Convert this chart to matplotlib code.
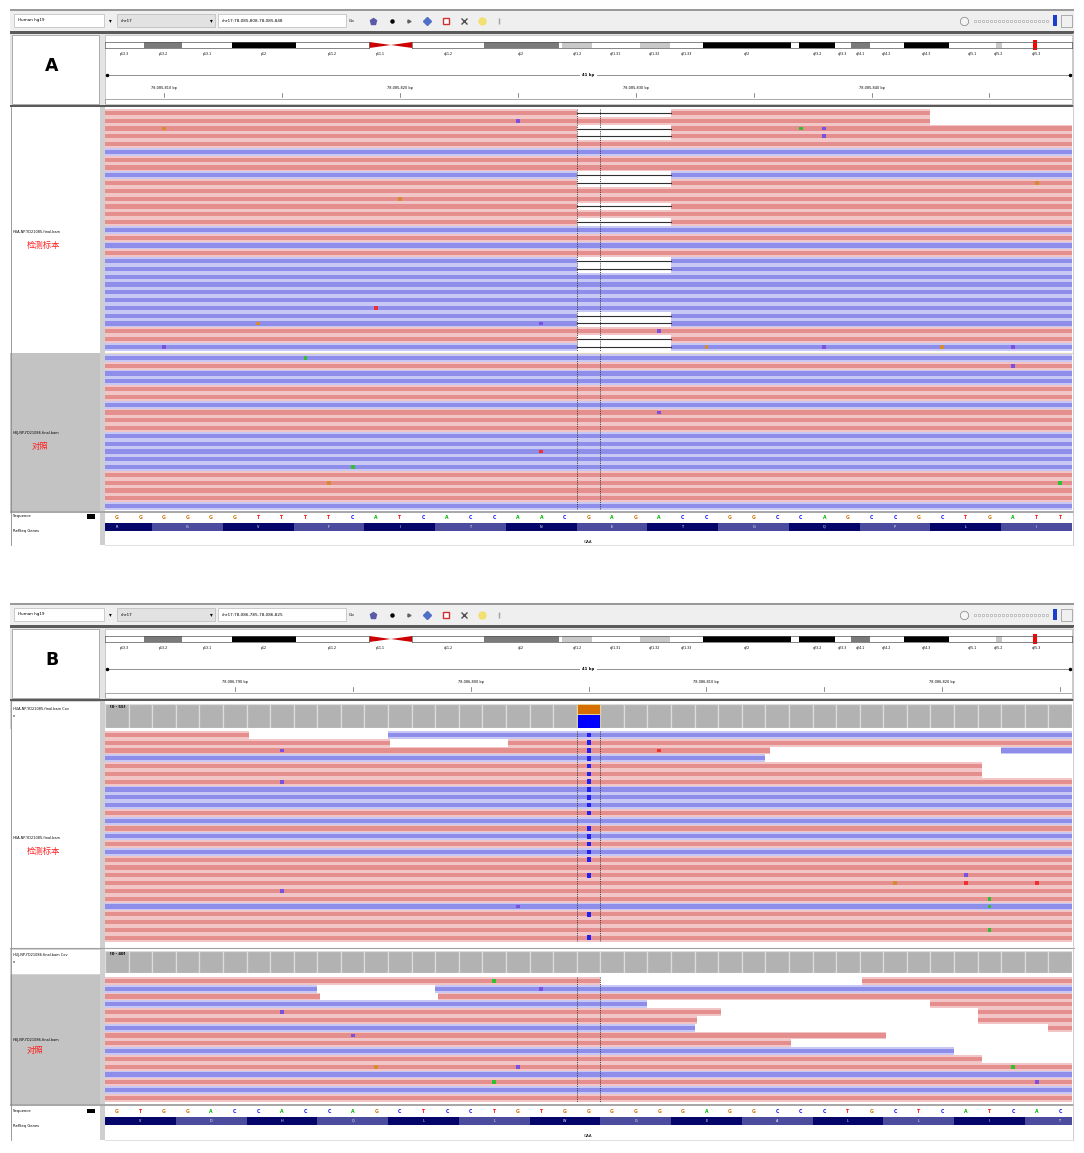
import matplotlib
matplotlib.use("Agg")
import matplotlib.pyplot as plt
from matplotlib.patches import Rectangle, Polygon

W, H = 1084, 1153
DX0, DX1 = 105, 1072      # left/right edge of the data columns (pixels)
PITCH = 7.8               # height of one read row (pixels)

# ---------------- data ----------------
N_BASES = 41
locus_a = "chr17:78,085,808-78,085,848"
start_a = 78085808
locus_b = "chr17:78,086,785-78,086,825"
start_b = 78086785

seq_a = "GGGGGGTTTTCATCACCAACGAGACCGGCCAGCCGCTGATT"
seq_b = "GTGGACCACCAGCTCCTGTGGGGGGAGGCCCTGCTCATCAC"

# GAA amino acids, first codon start (base offset) and letters
codon_frame_a = -1
aa_a = "RGVFITNETGQPLI"
codon_frame_b = 0
aa_b = "VDHQLLWGEALLIT"

# chr17 cytobands (Mb)
band_names = ["p13.3", "p13.2", "p13.1", "p12", "p11.2", "p11.1", "q11.1", "q11.2",
              "q12", "q21.1", "q21.2", "q21.31", "q21.32", "q21.33", "q22", "q23.1",
              "q23.2", "q23.3", "q24.1", "q24.2", "q24.3", "q25.1", "q25.2", "q25.3"]
band_start = [0.0, 3.3, 6.5, 10.7, 16.0, 22.2, 24.0, 25.8, 31.8, 38.1, 38.4, 40.9,
              44.9, 47.4, 50.2, 57.6, 58.3, 61.3, 62.6, 64.2, 67.1, 70.9, 74.8, 75.3]
band_end = [3.3, 6.5, 10.7, 16.0, 22.2, 24.0, 25.8, 31.8, 38.1, 38.4, 40.9, 44.9,
            47.4, 50.2, 57.6, 58.3, 61.3, 62.6, 64.2, 67.1, 70.9, 74.8, 75.3, 81.195]
band_stain = ["gneg", "gpos50", "gneg", "gpos100", "gneg", "acen", "acen", "gneg",
              "gpos50", "gneg", "gpos25", "gneg", "gpos25", "gneg", "gpos100", "gneg",
              "gpos100", "gneg", "gpos50", "gneg", "gpos100", "gneg", "gpos25", "gneg"]
chr_len = 81.195

# panel A - upper sample, one read per row (F pink / R blue)
strand_a1 = "FFFFFRFFRFFFFFFRFRFRRRRRRRRRFFR"
read_end_a1 = {0: 35.0, 1: 35.0}
deletion_a = (20, 24)
del_rows_a1 = [0, 2, 3, 8, 9, 12, 14, 19, 20, 26, 27, 29, 30]
mism_a1 = [(2, 2, "G"), (1, 17, "C"), (2, 29, "A"), (2, 30, "C"), (3, 30, "C"),
           (11, 12, "G"), (9, 39, "G"), (25, 11, "T"), (27, 6, "G"), (27, 18, "C"),
           (30, 2, "C"), (28, 23, "C"), (30, 25, "G"), (30, 30, "C"), (30, 35, "G"),
           (30, 38, "C")]
# panel A - control sample
strand_a2 = "RFRRFFRFFFRRRRRFFFFR"
mism_a2 = [(0, 8, "A"), (1, 38, "C"), (7, 23, "C"), (12, 18, "T"), (14, 10, "A"),
           (16, 9, "G"), (16, 40, "A")]

# panel B - upper sample, segments (start, end, strand) per row
reads_b1 = [
    [(-1, 6.1, "F"), (12.0, 42, "R")],
    [(-1, 12.1, "F"), (17.1, 42, "F")],
    [(-1, 28.2, "F"), (38.0, 42, "R")],
    [(-1, 28.0, "R")],
    [(-1, 37.2, "F")],
    [(-1, 37.2, "F")],
    [(-1, 42, "F")],
    [(-1, 42, "R")],
    [(-1, 42, "R")],
    [(-1, 42, "R")],
    [(-1, 42, "F")],
    [(-1, 42, "R")],
    [(-1, 42, "F")],
    [(-1, 42, "R")],
    [(-1, 42, "F")],
    [(-1, 42, "R")],
    [(-1, 42, "F")],
    [(-1, 42, "F")],
    [(-1, 42, "F")],
    [(-1, 42, "F")],
    [(-1, 42, "F")],
    [(-1, 42, "F")],
    [(-1, 42, "R")],
    [(-1, 42, "F")],
    [(-1, 42, "F")],
    [(-1, 42, "F")],
    [(-1, 42, "F")],
]
variant_pos_b = 20
variant_rows_b1 = [0, 1, 2, 3, 4, 5, 6, 7, 8, 9, 10, 12, 13, 14, 15, 16, 18, 23, 26]
mism_b1 = [(2, 23, "T"), (2, 7, "C"), (6, 7, "C"), (22, 17, "C"), (19, 33, "G"),
           (19, 36, "T"), (19, 39, "T"), (18, 36, "C"), (21, 37, "A"), (22, 37, "A"),
           (25, 37, "A"), (20, 7, "C")]

# panel B - control sample
reads_b2 = [
    [(-1, 21.0, "F"), (32.1, 42, "F")],
    [(-1, 9.0, "R"), (14.0, 42, "R")],
    [(-1, 9.1, "F"), (14.1, 42, "F")],
    [(-1, 23.0, "R"), (35.0, 42, "F")],
    [(-1, 26.1, "F"), (37.0, 42, "F")],
    [(-1, 25.1, "F"), (37.0, 42, "F")],
    [(-1, 25.0, "R"), (40.0, 42, "F")],
    [(-1, 33.1, "F")],
    [(-1, 29.1, "F")],
    [(-1, 36.0, "R")],
    [(-1, 37.2, "F")],
    [(-1, 42, "F")],
    [(-1, 42, "R")],
    [(-1, 42, "F")],
    [(-1, 42, "R")],
    [(-1, 42, "F")],
]
mism_b2 = [(0, 16, "A"), (1, 18, "C"), (4, 7, "C"), (7, 10, "C"), (11, 11, "G"),
           (11, 17, "C"), (11, 38, "A"), (13, 16, "A"), (13, 39, "C")]

# coverage per base
cov_b1 = [55, 55, 55, 55, 55, 55, 55, 55, 55, 55, 55, 55, 55, 55, 55, 55, 55, 55, 55, 55, 55,
          55, 55, 55, 55, 55, 55, 55, 55, 55, 55, 55, 55, 55, 55, 55, 55, 55, 55, 55, 55]
cov_b2 = [40, 40, 40, 40, 40, 40, 40, 40, 40, 40, 40, 40, 40, 40, 40, 40, 40, 40, 40, 40, 40,
          40, 40, 40, 40, 40, 40, 40, 40, 40, 40, 40, 40, 40, 40, 40, 40, 40, 40, 40, 40]
variant_counts_b1 = {"C": 30, "G": 25}

BASE_COLORS = {"A": "#00b400", "C": "#1010ff", "G": "#d17105", "T": "#ff1010"}
MISM_COLORS = {"A": "#30c030", "C": "#7a50e0", "G": "#d88a30", "T": "#f03030"}
READ_COLORS = {"F": ("#f2c6c6", "#e58e8e"), "R": ("#c8c8f4", "#8e8eea")}
STAIN_COLORS = {"gneg": "white", "gpos25": "#c8c8c8", "gpos50": "#7a7a7a",
                "gpos75": "#3c3c3c", "gpos100": "black"}
CJK = ["Noto Sans CJK SC", "DejaVu Sans"]


def axes_px(fig, x0, y0, x1, y1):
    ax = fig.add_axes([x0 / W, 1 - y1 / H, (x1 - x0) / W, (y1 - y0) / H])
    ax.set_axis_off()
    return ax


def draw_toolbar(cx, top, locus):
    cx.add_patch(Rectangle((10, top + 9), 1064, 1.6, fc="#9a9a9a"))
    cx.add_patch(Rectangle((10, top + 10.6), 1064, 20.4, fc="#efefef"))
    cx.add_patch(Rectangle((14, top + 14), 90, 13, fc="white", ec="#b8b8b8", lw=0.5))
    cx.text(18, top + 20.5, "Human hg19", fontsize=3, va="center")
    cx.text(110, top + 20.5, "\u25be", fontsize=4, va="center", ha="center")
    cx.add_patch(Rectangle((117, top + 14), 98, 13, fc="#e2e2e2", ec="#b8b8b8", lw=0.5))
    cx.text(121, top + 20.5, "chr17", fontsize=3, va="center")
    cx.text(211, top + 20.5, "\u25be", fontsize=4, va="center", ha="center")
    cx.add_patch(Rectangle((218, top + 14), 128, 13, fc="white", ec="#b8b8b8", lw=0.5))
    cx.text(222, top + 20.5, locus, fontsize=3, va="center")
    cx.text(349, top + 20.5, "Go", fontsize=3, va="center")
    y = top + 20.5
    cx.plot(373, y, marker="p", ms=5, color="#5a5aa8")
    cx.plot(392, y, marker="o", ms=2.2, color="black")
    cx.plot(409, y, marker=">", ms=2.2, color="#606060")
    cx.plot(427, y, marker="D", ms=4.5, color="#5070c8")
    cx.plot(446, y, marker="s", ms=4.5, mfc="white", mec="#d03030", mew=1)
    cx.plot(464, y, marker="x", ms=4, color="#505050", mew=1)
    cx.plot(482, y, marker="o", ms=5, color="#f2e070")
    cx.plot(499, y, marker="|", ms=5, color="#a0a0a0")
    cx.plot(964, y, marker="o", ms=6, mfc="#f4f4f4", mec="#909090", mew=0.6)
    for x in range(975, 1051, 4):
        cx.plot(x, y, marker="s", ms=1.8, mfc="#f8f8f8", mec="#a0a0a0", mew=0.4)
    cx.add_patch(Rectangle((1053, top + 15), 4, 11, fc="#1a3fd0"))
    cx.add_patch(Rectangle((1061, top + 14.5), 11, 12, fc="#f0f0f0", ec="#909090", lw=0.5))
    cx.add_patch(Rectangle((10, top + 31), 1064, 2.5, fc="#5a5a5a"))


def draw_header(fig, cx, top, label, start):
    cx.add_patch(Rectangle((10, top + 33.5), 1064, 71.5, fc="#e4e4e4"))
    cx.add_patch(Rectangle((12, top + 35), 87, 69, fc="white", ec="#a0a0a0", lw=0.6))
    cx.text(52, top + 66, label, fontsize=12.5, fontweight="bold", ha="center", va="center")
    cx.add_patch(Rectangle((105, top + 35), 967, 69, fc="white", ec="#b8b8b8", lw=0.5))
    cx.add_patch(Rectangle((10, top + 105), 1064, 2.2, fc="#5a5a5a"))

    # ideogram
    ax = axes_px(fig, DX0, top + 42, DX1, top + 48)
    ax.set_xlim(0, chr_len)
    ax.set_ylim(1, 0)
    for name, s, e, st in zip(band_names, band_start, band_end, band_stain):
        if st == "acen":
            if name.startswith("p"):
                pts = [(s, 0), (e, 0.5), (s, 1)]
            else:
                pts = [(s, 0.5), (e, 0), (e, 1)]
            ax.add_patch(Polygon(pts, closed=True, fc="#cc0000", ec="none"))
        else:
            ax.add_patch(Rectangle((s, 0), e - s, 1, fc=STAIN_COLORS[st], ec="none"))
        if name not in ("q11.1", "q21.1", "q23.1"):
            ax.text((s + e) / 2, 2.0, name, fontsize=2.3, ha="center", va="center",
                    clip_on=False)
    p_end = band_start[band_names.index("p11.1")]
    q_start = band_end[band_names.index("q11.1")]
    for a, b in ((0, p_end), (q_start, chr_len)):
        ax.plot([a, b], [0, 0], color="#555555", lw=0.5, clip_on=False)
        ax.plot([a, b], [1, 1], color="#555555", lw=0.5, clip_on=False)
        ax.plot([a, a], [0, 1], color="#555555", lw=0.5, clip_on=False)
        ax.plot([b, b], [0, 1], color="#555555", lw=0.5, clip_on=False)
    ax.add_patch(Rectangle((start / 1e6 - 0.15, -0.3), 0.3, 1.6, fc="red", ec="none",
                           clip_on=False))

    # ruler
    ax = axes_px(fig, DX0, top + 70, DX1, top + 104)
    ax.set_xlim(0, N_BASES)
    ax.set_ylim(34, 0)
    ax.plot([0.1, N_BASES - 0.1], [5, 5], color="#909090", lw=0.7)
    ax.plot([0.1, N_BASES - 0.1], [5, 5], ls="none", marker="o", ms=1.5, color="black")
    ax.text(N_BASES / 2, 5, "41 bp", fontsize=2.8, fontweight="bold", ha="center",
            va="center", bbox=dict(fc="white", ec="none", pad=1.5))
    first = (start // 5 + 1) * 5
    for p in range(first, start + N_BASES, 5):
        x = p - start + 0.5
        ax.plot([x, x], [23, 27], color="#606060", lw=0.5)
        if p % 10 == 0:
            ax.text(x, 18, f"{p:,} bp", fontsize=2.5, ha="center", va="center")
    ax.add_patch(Rectangle((0, 28.5), N_BASES, 5, fc="white", ec="#9a9a9a", lw=0.6))


def draw_reads(fig, y0, rows, mism, del_rows=(), deletion=None, var_rows=(), var_pos=None):
    n = len(rows)
    ax = axes_px(fig, DX0, y0, DX1, y0 + n * PITCH)
    ax.set_xlim(0, N_BASES)
    ax.set_ylim(n, 0)
    for i, segs in enumerate(rows):
        for s, e, strand in segs:
            light, dark = READ_COLORS[strand]
            ax.add_patch(Rectangle((s, i), e - s, 1.0, fc=light, ec="none"))
            ax.add_patch(Rectangle((s, i + 0.22), e - s, 0.56, fc=dark, ec="none"))
    if deletion is not None:
        d0, d1 = deletion
        for i in del_rows:
            ax.add_patch(Rectangle((d0, i), d1 - d0, 1, fc="white", ec="none"))
            ax.plot([d0, d1], [i + 0.5, i + 0.5], color="#303030", lw=0.8)
    for r, p, b in mism:
        ax.add_patch(Rectangle((p + 0.42, r + 0.25), 0.16, 0.5, fc=MISM_COLORS[b], ec="none"))
    for r in var_rows:
        ax.add_patch(Rectangle((var_pos + 0.42, r + 0.2), 0.18, 0.6, fc="#2020f0", ec="none"))
    for x in (20, 21):
        ax.plot([x, x], [0, n], color="#303030", lw=0.6, ls=(0, (1.3, 1.3)))
    return ax


def draw_coverage(fig, y0, y1, cov, label, variant=None, var_pos=None):
    ax = axes_px(fig, DX0, y0, DX1, y1)
    top = max(cov)
    ax.set_xlim(0, N_BASES)
    ax.set_ylim(0, top)
    ax.bar(range(N_BASES), cov, width=1, align="edge", color="#b2b2b2",
           edgecolor="#dcdcdc", linewidth=0.9)
    if variant is not None:
        ax.bar(var_pos, variant["C"], width=1, align="edge", color="#0000ff",
               edgecolor="#e8dca0", linewidth=0.6)
        ax.bar(var_pos, variant["G"], bottom=variant["C"], width=1, align="edge",
               color="#d66e00", edgecolor="#e8dca0", linewidth=0.6)
    ax.text(0.2, top * 0.93, label, fontsize=2.7, fontweight="bold", va="top")


def draw_sequence(fig, y, seq, frame, aa):
    ax = axes_px(fig, DX0, y, DX1, y + 9)
    ax.set_xlim(0, N_BASES)
    ax.set_ylim(1, 0)
    for i, b in enumerate(seq):
        ax.text(i + 0.5, 0.5, b, color=BASE_COLORS[b], fontsize=3.3, fontweight="bold",
                ha="center", va="center")
    ax = axes_px(fig, DX0, y + 9.5, DX1, y + 18)
    ax.set_xlim(0, N_BASES)
    ax.set_ylim(1, 0)
    for k, a in enumerate(aa):
        s = frame + 3 * k
        col = "#06066a" if k % 2 == 0 else "#4c4c9e"
        ax.add_patch(Rectangle((s, 0.05), 3, 0.9, fc=col, ec="none"))
        ax.text(s + 1.5, 0.5, a, color="white", fontsize=2.4, ha="center", va="center")
    ax.text(N_BASES / 2, 2.3, "GAA", fontsize=2.8, ha="center", va="center", clip_on=False)


fig = plt.figure(figsize=(W / 100, H / 100), dpi=100)
cx = fig.add_axes([0, 0, 1, 1])
cx.set_xlim(0, W)
cx.set_ylim(H, 0)
cx.set_axis_off()

# ---------------- panel A ----------------
draw_toolbar(cx, 0, locus_a)
draw_header(fig, cx, 0, "A", start_a)
cx.add_patch(Rectangle((105, 107), 967, 438, fc="white"))
cx.add_patch(Rectangle((10, 107), 90, 246, fc="white"))
cx.add_patch(Rectangle((10, 353), 90, 158, fc="#c3c3c3"))
cx.add_patch(Rectangle((10, 513), 90, 32, fc="white"))
cx.add_patch(Rectangle((99.5, 107), 5.5, 438, fc="#cfcfcf"))
cx.plot([10.5, 10.5], [107, 545], color="#8a8a8a", lw=0.6)
cx.add_patch(Rectangle((10, 510.5), 1064, 2, fc="#a8a8a8"))
cx.plot([1073, 1073], [33, 545], color="#c8c8c8", lw=0.6)
cx.plot([105, 1072], [545, 545], color="#dcdcdc", lw=0.6)

rows_a1 = [[(-1, read_end_a1.get(i, 42), s)] for i, s in enumerate(strand_a1)]
rows_a2 = [[(-1, 42, s)] for s in strand_a2]
draw_reads(fig, 109, rows_a1, mism_a1, del_rows_a1, deletion_a)
draw_reads(fig, 354, rows_a2, mism_a2)
cx.plot([105, 1072], [353.2, 353.2], color="#e8d8b8", lw=0.8, zorder=5)
draw_sequence(fig, 513, seq_a, codon_frame_a, aa_a)

cx.text(13, 232, "HUA-NP-YD21085.final.bam", fontsize=2.5, va="center")
cx.text(27, 245, "检测标本", fontsize=6, color="#ff2020", va="center", family=CJK)
cx.text(13, 433, "HUJ-NP-YD21086.final.bam", fontsize=2.5, va="center")
cx.text(32, 446, "对照", fontsize=6, color="#ff2020", va="center", family=CJK)
cx.text(13, 516.5, "Sequence", fontsize=2.7, va="center")
cx.add_patch(Rectangle((87, 514), 8, 4.5, fc="black"))
cx.text(13, 531, "RefSeq Genes", fontsize=2.7, va="center")

# ---------------- panel B ----------------
T = 594
draw_toolbar(cx, T, locus_b)
draw_header(fig, cx, T, "B", start_b)
cx.add_patch(Rectangle((105, 701), 967, 439, fc="white"))
cx.add_patch(Rectangle((10, 701), 90, 27.5, fc="white", ec="#b0b0b0", lw=0.4))
cx.add_patch(Rectangle((10, 729), 90, 218, fc="white"))
cx.add_patch(Rectangle((10, 948.5), 90, 25.5, fc="white", ec="#b0b0b0", lw=0.4))
cx.add_patch(Rectangle((10, 975), 90, 129, fc="#c3c3c3"))
cx.add_patch(Rectangle((10, 1106), 90, 34, fc="white"))
cx.add_patch(Rectangle((99.5, 701), 5.5, 439, fc="#cfcfcf"))
cx.plot([10.5, 10.5], [701, 1140], color="#8a8a8a", lw=0.6)
cx.plot([10, 1074], [947.5, 947.5], color="#a0a0a0", lw=0.8)
cx.add_patch(Rectangle((10, 1103.5), 1064, 2, fc="#a8a8a8"))
cx.plot([1073, 1073], [627, 1140], color="#c8c8c8", lw=0.6)
cx.plot([105, 1072], [1140, 1140], color="#dcdcdc", lw=0.6)

draw_coverage(fig, 703.5, 727.5, cov_b1, "[0 - 55]", variant_counts_b1, variant_pos_b)
draw_reads(fig, 731, reads_b1, mism_b1, var_rows=variant_rows_b1, var_pos=variant_pos_b)
draw_coverage(fig, 950.5, 972.5, cov_b2, "[0 - 40]")
draw_reads(fig, 977, reads_b2, mism_b2)
draw_sequence(fig, 1107, seq_b, codon_frame_b, aa_b)

cx.text(13, 709, "HUA-NP-YD21085.final.bam Cov", fontsize=2.5, va="center")
cx.text(13, 716, "e", fontsize=2.5, va="center")
cx.text(13, 838, "HUA-NP-YD21085.final.bam", fontsize=2.5, va="center")
cx.text(27, 851, "检测标本", fontsize=6, color="#ff2020", va="center", family=CJK)
cx.text(13, 955, "HUJ-NP-YD21086.final.bam Cov", fontsize=2.5, va="center")
cx.text(13, 962, "e", fontsize=2.5, va="center")
cx.text(13, 1040, "HUJ-NP-YD21086.final.bam", fontsize=2.5, va="center")
cx.text(27, 1051, "对照", fontsize=6, color="#ff2020", va="center", family=CJK)
cx.text(13, 1111, "Sequence", fontsize=2.7, va="center")
cx.add_patch(Rectangle((87, 1108.5), 8, 4.5, fc="black"))
cx.text(13, 1126, "RefSeq Genes", fontsize=2.7, va="center")

fig.savefig("out.png", dpi=100)
